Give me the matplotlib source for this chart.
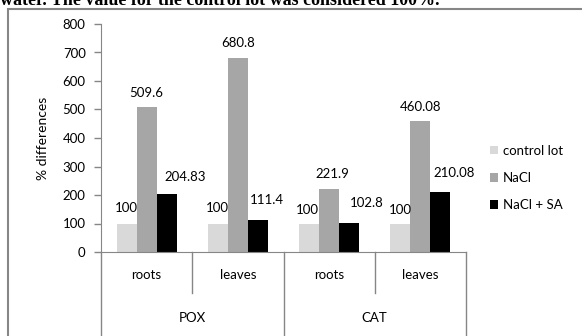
import matplotlib
matplotlib.use("Agg")
import matplotlib.pyplot as plt
from matplotlib.patches import Rectangle
from matplotlib.transforms import blended_transform_factory
import numpy as np

enzymes = ["POX", "CAT"]
organs = ["roots", "leaves", "roots", "leaves"]
series = ["control lot", "NaCl", "NaCl + SA"]
control = [100, 100, 100, 100]
nacl = [509.6, 680.8, 221.9, 460.08]
nacl_sa = [204.83, 111.4, 102.8, 210.08]
labels = [
    ["100", "100", "100", "100"],
    ["509.6", "680.8", "221.9", "460.08"],
    ["204.83", "111.4", "102.8", "210.08"],
]
# label offsets in pixels (dx, dy) from bar top – style only
offsets = [
    [(0, 15), (0, 15), (-2, 13), (0, 13)],
    [(0, 14), (0, 15), (3, 15), (0, 14)],
    [(18, 17), (9, 20), (18, 20), (14, 19)],
]
colors = ["#d9d9d9", "#a6a6a6", "#000000"]
axis_gray = "#868686"

plt.rcParams["font.family"] = ["Lato", "DejaVu Sans"]

W, H = 582, 336
fig = plt.figure(figsize=(W / 100, H / 100), dpi=100)
ax = fig.add_axes([101 / W, 1 - 252 / H, 365 / W, 228 / H])

x = np.arange(len(organs))
bw = 0.22
vals = [control, nacl, nacl_sa]
for i, (v, c) in enumerate(zip(vals, colors)):
    xs = x + (i - 1) * bw
    ax.bar(xs, v, width=bw, color=c, label=series[i], zorder=2)
    for j, (xx, yy) in enumerate(zip(xs, v)):
        dx, dy = offsets[i][j]
        ax.annotate(labels[i][j], (xx, yy), xytext=(dx, dy), textcoords="offset pixels",
                    ha="center", va="center", fontsize=9.5, color="#000000")

ax.set_xlim(-0.5, 3.5)
ax.set_ylim(0, 800)
ax.set_yticks(np.arange(0, 801, 100))
ax.tick_params(axis="y", direction="out", length=5, width=1, color=axis_gray,
               labelsize=9.5, pad=6, labelcolor="#000000")
ax.set_xticks([])
for s in ["top", "right"]:
    ax.spines[s].set_visible(False)
ax.spines["left"].set_color(axis_gray)
ax.spines["bottom"].set_color(axis_gray)
ax.set_ylabel("% differences", fontsize=10, labelpad=10)

tr = blended_transform_factory(ax.transData, ax.transAxes)
bot = -(336 - 252) / 228.0
inner = -(293 - 252) / 228.0
for xv in [-0.5, 1.5, 3.5]:
    ax.plot([xv, xv], [0, bot], transform=tr, color=axis_gray, lw=1, clip_on=False)
for xv in [0.5, 2.5]:
    ax.plot([xv, xv], [0, inner], transform=tr, color=axis_gray, lw=1, clip_on=False)
for j, o in enumerate(organs):
    ax.text(j, -(275 - 252) / 228.0, o, transform=tr, ha="center", va="center", fontsize=9.5)
for k, e in enumerate(enzymes):
    ax.text(2 * k + 0.5, -(318 - 252) / 228.0, e, transform=tr, ha="center", va="center", fontsize=9.5)

leg = ax.legend(loc="center left", bbox_to_anchor=(490 / W, 1 - 178 / H),
                bbox_transform=fig.transFigure, frameon=False, fontsize=9.5,
                handlelength=0.6, handleheight=0.6, handletextpad=0.35, labelspacing=1.15,
                borderaxespad=0, borderpad=0)

# outer frame
fig.patches.append(Rectangle((8 / W, -0.1), 1.2, 1 - 9 / H + 0.1, transform=fig.transFigure,
                             fill=False, edgecolor=axis_gray, lw=1.5))
fig.text(0, 1 - 5 / H, "water. The value for the control lot was considered 100%.",
         ha="left", va="baseline", fontsize=13, fontweight="bold",
         family=["Liberation Serif", "DejaVu Serif"])

fig.savefig("out.png", dpi=100)
